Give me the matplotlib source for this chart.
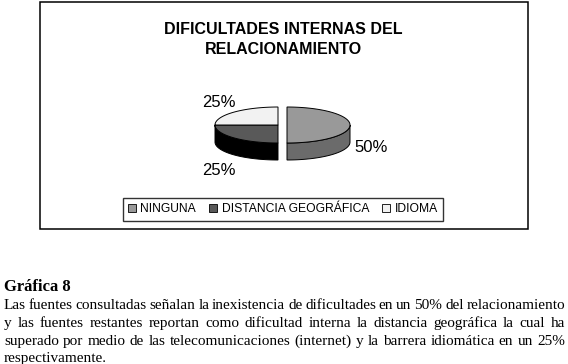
import numpy as np
import matplotlib

matplotlib.use("Agg")
import matplotlib.pyplot as plt
from matplotlib.patches import Polygon, Rectangle, Patch

# data
categories = ["NINGUNA", "DISTANCIA GEOGRÁFICA", "IDIOMA"]
shares = [50, 25, 25]
pct_labels = ["50%", "25%", "25%"]
top_colors = ["#999999", "#595959", "#f2f2f2"]
side_colors = ["#6b6b6b", "#000000", "#cfcfcf"]
explode = [9, 0, 0]

title_lines = ["DIFICULTADES INTERNAS DEL", "RELACIONAMIENTO"]
caption_title = "Gráfica 8"
caption_lines = [
    "Las fuentes consultadas señalan la inexistencia de dificultades en un 50% del relacionamiento",
    "y las fuentes restantes reportan como dificultad interna la distancia geográfica la cual ha",
    "superado por medio de las telecomunicaciones (internet) y la barrera idiomática en un 25%",
    "respectivamente.",
]

W, H = 568, 364
fig = plt.figure(figsize=(W / 100, H / 100), dpi=100)
ax = fig.add_axes([0, 0, 1, 1])
ax.set_xlim(0, W)
ax.set_ylim(H, 0)
ax.axis("off")

sans = "Liberation Sans"
serif = "Liberation Serif"

# chart frame
ax.add_patch(Rectangle((40, 2), 488, 227, fill=False, lw=1.1, ec="black"))

for i, line in enumerate(title_lines):
    ax.text(283, 29 + 21 * i, line, ha="center", va="center", fontsize=11.5,
            fontweight="bold", family=sans)

# 3d pie
cx, cy = 278, 125
a, b = 63, 18
depth = 17

total = sum(shares)
cum = np.concatenate([[0], np.cumsum(shares)])
sides, tops = [], []
for i, val in enumerate(shares):
    t1 = 90 - 360 * cum[i] / total
    t2 = 90 - 360 * cum[i + 1] / total
    mid = np.radians((t1 + t2) / 2)
    ox = cx + explode[i] * np.cos(mid)
    oy = cy - explode[i] * (b / a) * np.sin(mid)

    th = np.radians(np.linspace(t1, t2, 120))
    arc = np.column_stack([ox + a * np.cos(th), oy - b * np.sin(th)])
    tops.append(Polygon(np.vstack([[ox, oy], arc]), closed=True, fc=top_colors[i],
                        ec="black", lw=0.7, zorder=3))

    lo, hi = max(t2, -180), min(t1, 0)
    if hi > lo:
        ths = np.radians(np.linspace(hi, lo, 80))
        upper = np.column_stack([ox + a * np.cos(ths), oy - b * np.sin(ths)])
        lower = upper[::-1] + [0, depth]
        sides.append(Polygon(np.vstack([upper, lower]), closed=True, fc=side_colors[i],
                             ec="black", lw=0.7, zorder=2))

    # percentage label
    lx = ox + 1.33 * a * np.cos(mid)
    ly = oy - 1.8 * b * np.sin(mid)
    if np.sin(mid) <= 1e-9:
        ly += 1.3 * depth
    ax.text(lx, ly, pct_labels[i], ha="center", va="center", fontsize=12, family=sans)

for p in sides + tops:
    ax.add_patch(p)

# legend
handles = [Patch(fc=c, ec="black", lw=0.6) for c in top_colors]
leg = ax.legend(handles, categories, loc="center", bbox_to_anchor=(283 / W, 1 - 209.5 / H),
                ncol=3, frameon=True, fancybox=False, edgecolor="black",
                prop={"family": sans, "size": 8.7}, handlelength=0.6, handleheight=0.6,
                handletextpad=0.4, columnspacing=1.1, borderpad=0.45)
leg.get_frame().set_linewidth(1.0)

# caption
ax.text(4, 291, caption_title, ha="left", va="baseline", fontsize=12,
        fontweight="bold", family=serif)

renderer = fig.canvas.get_renderer()
left, right = 4, 565
body_size = 11
for k, line in enumerate(caption_lines):
    y = 309 + 17.8 * k
    words = line.split(" ")
    if k == len(caption_lines) - 1:
        ax.text(left, y, line, ha="left", va="baseline", fontsize=body_size, family=serif)
        continue
    items = [ax.text(0, y, w, ha="left", va="baseline", fontsize=body_size, family=serif)
             for w in words]
    widths = [t.get_window_extent(renderer).width for t in items]
    gap = (right - left - sum(widths)) / (len(words) - 1)
    x = left
    for t, w in zip(items, widths):
        t.set_x(x)
        x += w + gap

fig.savefig("out.png", dpi=100)
